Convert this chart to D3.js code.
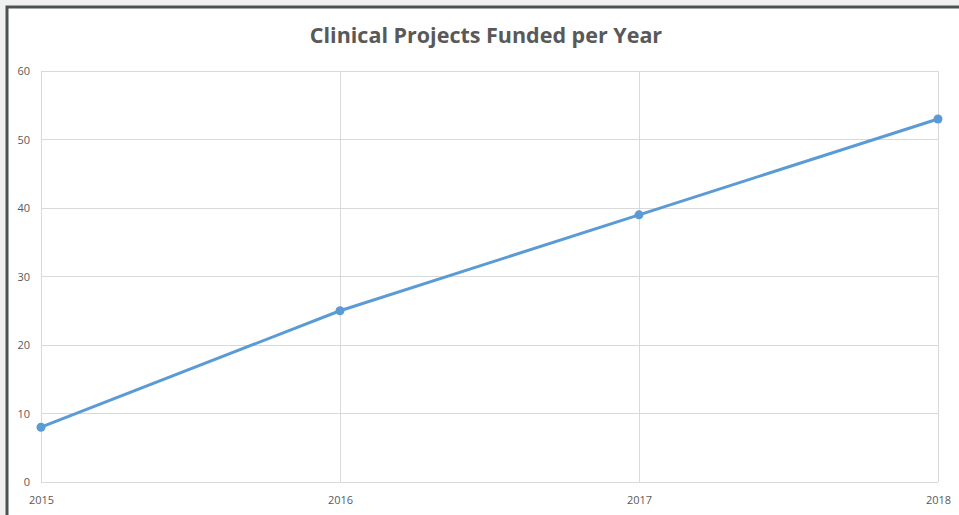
<!DOCTYPE html>
<html><head><meta charset="utf-8">
<script src="https://cdn.jsdelivr.net/npm/d3@7"></script>
<style>html,body{margin:0;padding:0;background:#f0f0f0;}svg{display:block;}</style>
</head><body>
<svg id="c" width="959" height="515"></svg>
<script>
const years = [2015, 2016, 2017, 2018];
const projects = [8, 25, 39, 53];
const yTicks = [0, 10, 20, 30, 40, 50, 60];
const title = "Clinical Projects Funded per Year";

const svg = d3.select("#c");
svg.append("rect").attr("x",0).attr("y",0).attr("width",959).attr("height",515).attr("fill","#f0f0f0");
svg.append("rect").attr("x",6).attr("y",6).attr("width",960).attr("height",520).attr("fill","#ffffff");
svg.append("path").attr("d","M7,515V7H959").attr("fill","none").attr("stroke","#4b5252").attr("stroke-width",3);

const m = {l:41, r:938, t:71, b:482};
const x = d3.scalePoint().domain(years).range([m.l, m.r]);
const y = d3.scaleLinear().domain([0,60]).range([m.b, m.t]);

// horizontal grid
svg.append("g").selectAll("line").data(yTicks).join("line")
  .attr("x1",m.l).attr("x2",m.r).attr("y1",d=>y(d)).attr("y2",d=>y(d))
  .attr("stroke","#d9d9d9").attr("stroke-width",1).attr("shape-rendering","crispEdges");
// vertical grid
svg.append("g").selectAll("line").data(years).join("line")
  .attr("x1",d=>x(d)).attr("x2",d=>x(d)).attr("y1",m.t).attr("y2",m.b)
  .attr("stroke","#d9d9d9").attr("stroke-width",1).attr("shape-rendering","crispEdges");

const yAxis = d3.axisLeft(y).tickValues(yTicks).tickSize(0).tickPadding(11);
const gy = svg.append("g").attr("transform",`translate(${m.l},0)`).call(yAxis);
gy.select(".domain").remove();
gy.selectAll("text").attr("fill","#595959").attr("font-family","'Open Sans',sans-serif").attr("font-size",11);

const xAxis = d3.axisBottom(x).tickSize(0).tickPadding(14);
const gx = svg.append("g").attr("transform",`translate(0,${m.b})`).call(xAxis);
gx.select(".domain").remove();
gx.selectAll("text").attr("fill","#595959").attr("font-family","'Open Sans',sans-serif").attr("font-size",11);

const data = years.map((d,i)=>({year:d, v:projects[i]}));
svg.append("path").datum(data)
  .attr("d", d3.line().x(d=>x(d.year)).y(d=>y(d.v)))
  .attr("fill","none").attr("stroke","#5b9bd5").attr("stroke-width",3).attr("stroke-linejoin","round");
svg.append("g").selectAll("circle").data(data).join("circle")
  .attr("cx",d=>x(d.year)).attr("cy",d=>y(d.v)).attr("r",4.5).attr("fill","#5b9bd5");

svg.append("text").attr("x",486).attr("y",43).attr("text-anchor","middle")
  .attr("font-family","'Open Sans',sans-serif").attr("font-weight","bold").attr("font-size",21.5)
  .attr("fill","#595959").text(title);
</script>
</body></html>
